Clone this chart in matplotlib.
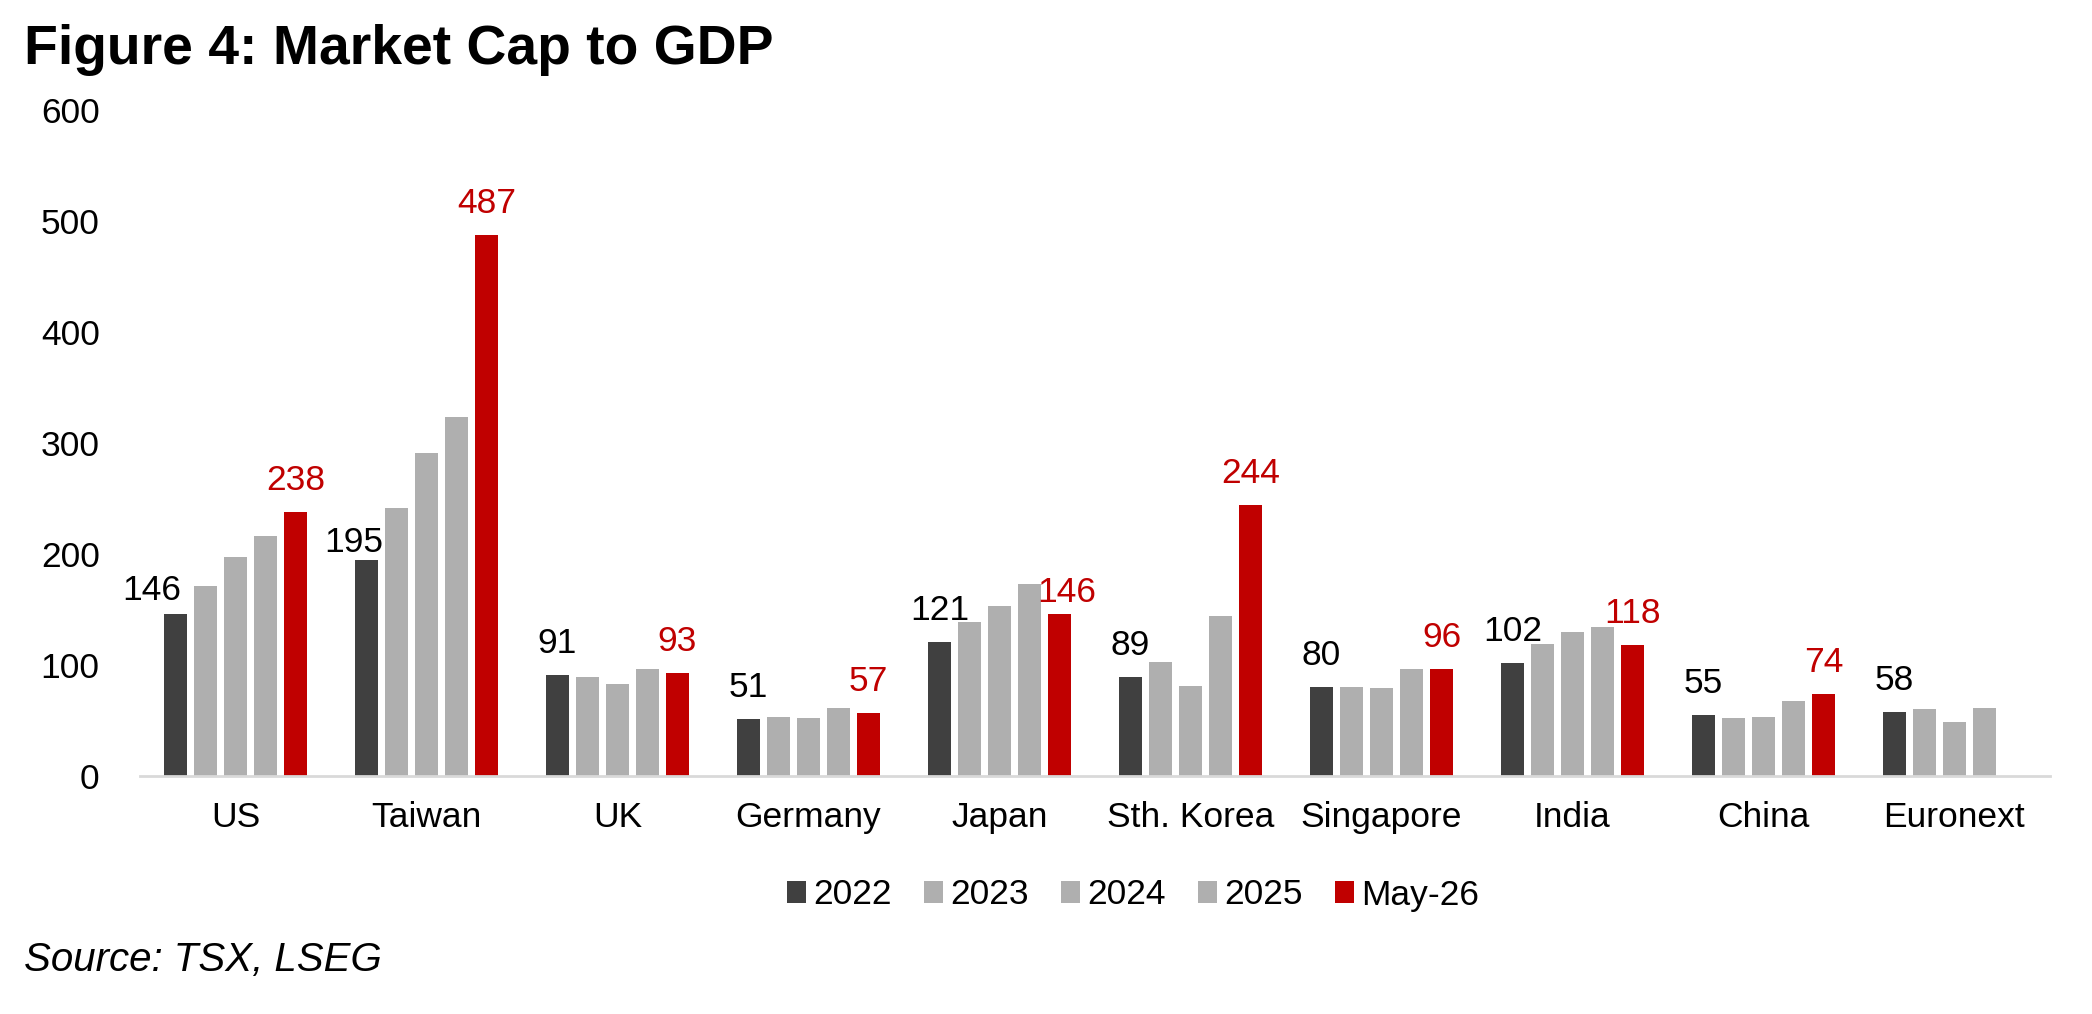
import matplotlib.pyplot as plt
import numpy as np
from matplotlib.patches import Patch

plt.rcParams['font.family'] = ['Liberation Sans', 'DejaVu Sans']

# Data
countries = ['US', 'Taiwan', 'UK', 'Germany', 'Japan', 'Sth. Korea', 'Singapore', 'India', 'China', 'Euronext']
series_names = ['2022', '2023', '2024', '2025', 'May-26']
v2022 = [146, 195, 91, 51, 121, 89, 80, 102, 55, 58]
v2023 = [171, 241, 89, 53, 139, 103, 80, 119, 52, 60]
v2024 = [197, 291, 83, 52, 153, 81, 79, 130, 53, 49]
v2025 = [216, 323, 96, 61, 173, 144, 96, 134, 68, 61]
vmay26 = [238, 487, 93, 57, 146, 244, 96, 118, 74, np.nan]

dark = '#404040'
grey = '#AFAFAF'
red = '#C00000'
colors = [dark, grey, grey, grey, red]
all_series = [v2022, v2023, v2024, v2025, vmay26]

fig = plt.figure(figsize=(20.92, 10.14), dpi=100)
ax = fig.add_axes([140 / 2092, 238 / 1014, 1910 / 2092, 666 / 1014])

x = np.arange(len(countries))
slot = 0.157
bar_w = 0.12
for i, (vals, col) in enumerate(zip(all_series, colors)):
    ax.bar(x + (i - 2) * slot, vals, width=bar_w, color=col, linewidth=0, zorder=2)

# labels on 2022 (black) and May-26 (red); nudges in pixels where the label was moved off the bar
nudges = {(0, 0): (-24, 14), (1, 0): (-13, 8), (4, 4): (7, 12)}
px = 72 / 100
for si, col_txt in [(0, 'black'), (4, red)]:
    vals = all_series[si]
    for ci, v in enumerate(vals):
        if np.isnan(v):
            continue
        dx, dy = nudges.get((ci, si), (0, 22))
        ax.annotate(f'{v:.0f}', (x[ci] + (si - 2) * slot, v), xytext=(dx * px, dy * px),
                    textcoords='offset points', ha='center', va='baseline',
                    fontsize=25.5, color=col_txt)

ax.set_xlim(-0.5, len(countries) - 0.5)
ax.set_ylim(0, 600)
ax.set_yticks(range(0, 601, 100))
ax.set_xticks(x)
ax.set_xticklabels(countries)
ax.tick_params(axis='y', length=0, pad=29, labelsize=25.5)
ax.tick_params(axis='x', length=0, pad=18, labelsize=25.5)
for s in ['top', 'right', 'left']:
    ax.spines[s].set_visible(False)
ax.spines['bottom'].set_color('#D9D9D9')
ax.spines['bottom'].set_linewidth(2)
ax.spines['bottom'].set_zorder(3)

handles = [Patch(facecolor=c, label=n) for c, n in zip(colors, series_names)]
fig.legend(handles=handles, loc='center', bbox_to_anchor=(1133 / 2092, 1 - 895 / 1014),
           ncol=5, frameon=False, fontsize=25.5, handlelength=0.55, handleheight=0.55,
           handletextpad=0.2, columnspacing=0.9)

fig.text(24 / 2092, 1 - 50 / 1014, 'Figure 4: Market Cap to GDP', fontsize=39.8,
         fontweight='bold', ha='left', va='center')
fig.text(24 / 2092, 1 - 960 / 1014, 'Source: TSX, LSEG', fontsize=29,
         fontstyle='italic', ha='left', va='center')

fig.savefig('out.png', dpi=100)
